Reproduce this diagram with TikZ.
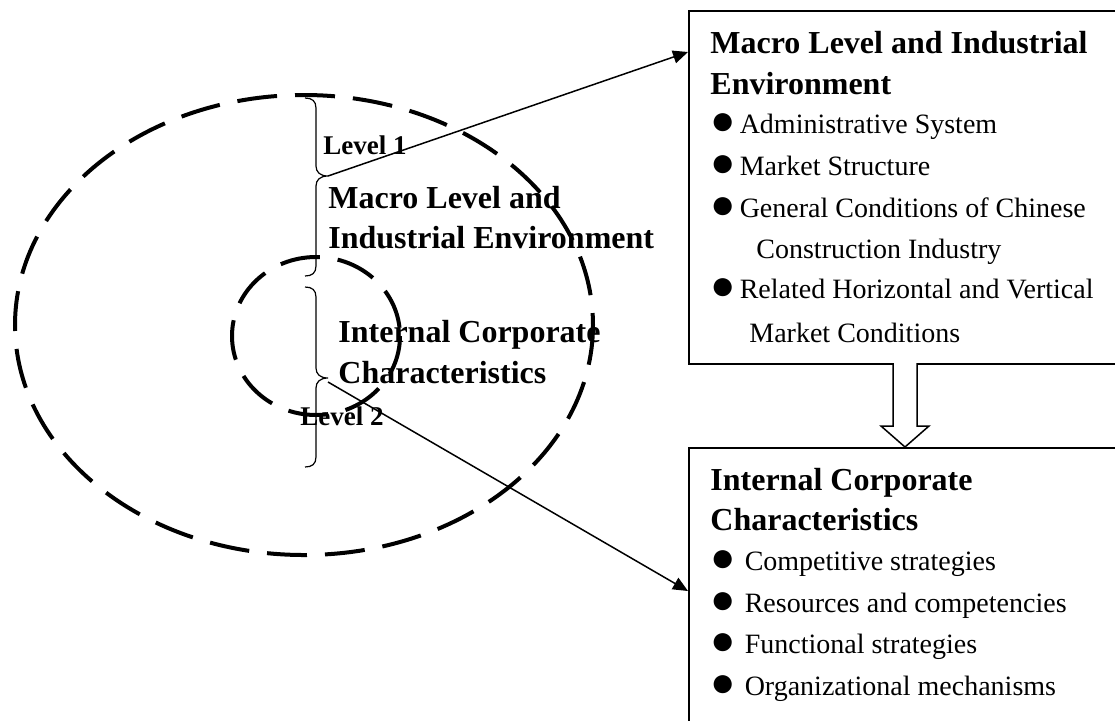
\documentclass[tikz,border=0pt]{standalone}
\usepackage{fontspec}
\setmainfont{Liberation Serif}
\usetikzlibrary{arrows.meta, positioning}

\newcommand{\blt}{{\fontsize{21pt}{17pt}\selectfont\raisebox{-0.5pt}{●}}}

\tikzset{
  ring/.style={line width=2pt, dash pattern=on 20pt off 9pt},
  brace/.style={line width=0.6pt},
  link/.style={line width=0.75pt, -{Triangle[length=7.5pt,width=6.5pt]}},
  panel/.style={draw, line width=1pt, anchor=north west, minimum width=230pt, inner sep=0pt},
  head/.style={font=\fontsize{16pt}{20pt}\selectfont\bfseries, inner sep=0pt, anchor=base west},
  tag/.style={font=\fontsize{13.5pt}{16pt}\selectfont\bfseries, inner sep=0pt, anchor=base west},
  item/.style={font=\fontsize{14pt}{17pt}\selectfont, inner sep=0pt, anchor=base west},
}

\begin{document}
\begin{tikzpicture}[x=0.5pt, y=-0.5pt]
    \clip (0,0) rectangle (1115,720);

    % Rings
    \draw[ring] (304,325) ellipse [x radius=289, y radius=230];
    \draw[ring] (316,336) ellipse [x radius=84, y radius=79];

    % Braces
    \coordinate (lvlAtip) at (328,176);
    \coordinate (lvlBtip) at (328,378);
    \draw[brace] (305,98) .. controls (312,98) and (316,101) .. (316,108) -- (316,166)
        .. controls (316,172) and (320,176) .. (lvlAtip)
        .. controls (320,176) and (316,180) .. (316,186) -- (316,266)
        .. controls (316,273) and (312,276) .. (305,276);
    \draw[brace] (305,287) .. controls (312,287) and (316,290) .. (316,297) -- (316,368)
        .. controls (316,374) and (320,378) .. (lvlBtip)
        .. controls (320,378) and (316,382) .. (316,388) -- (316,457)
        .. controls (316,464) and (312,467) .. (305,467);

    % Labels in the rings
    \node[tag] (lvlA) at (323,154) {Level 1};
    \node[head] (macroA) at (328,208) {Macro Level and};
    \node[below=20pt of macroA.base west, head] (macroB) {Industrial Environment};
    \node[head] (intA) at (338,342) {Internal Corporate};
    \node[below=20.5pt of intA.base west, head] (intB) {Characteristics};
    \node[tag] (lvlB) at (300,425) {Level 2};

    % Boxes
    \node[panel, minimum height=176.5pt] (macrobox) at (688,10) {};
    \node[panel, minimum height=146.5pt] (intbox) at (688,447) {};

    \node[head] (mhA) at (710,53) {Macro Level and Industrial};
    \node[below=20.5pt of mhA.base west, head] (mhB) {Environment};
    \node[below=19.5pt of mhB.base west, item] (mi1) {\blt\hspace{2pt}Administrative System};
    \node[below=21pt of mi1.base west, item] (mi2) {\blt\hspace{2pt}Market Structure};
    \node[below=21pt of mi2.base west, item] (mi3) {\blt\hspace{2pt}General Conditions of Chinese};
    \node[below=20.5pt of mi3.base west, item, xshift=23pt] (mi3b) {Construction Industry};
    \node[below=20pt of mi3b.base west, item, xshift=-23pt] (mi4) {\blt\hspace{2pt}Related Horizontal and Vertical};
    \node[below=22pt of mi4.base west, item, xshift=19.5pt] (mi4b) {Market Conditions};

    \node[head] (ihA) at (710,490) {Internal Corporate};
    \node[below=20pt of ihA.base west, head] (ihB) {Characteristics};
    \node[below=20pt of ihB.base west, item] (ii1) {\blt\hspace{4.5pt}Competitive strategies};
    \node[below=21pt of ii1.base west, item] (ii2) {\blt\hspace{4.5pt}Resources and competencies};
    \node[below=20.5pt of ii2.base west, item] (ii3) {\blt\hspace{4.5pt}Functional strategies};
    \node[below=21pt of ii3.base west, item] (ii4) {\blt\hspace{4.5pt}Organizational mechanisms};

    % Links
    \coordinate (macroend) at (688,52);
    \coordinate (intend) at (688,591);
    \draw[link] (lvlAtip) -- (macroend);
    \draw[link] (lvlBtip) ++(0,4) -- (intend);

    % Hollow arrow between the boxes
    \coordinate (dnA) at (905,363);
    \coordinate (dnB) at (905,447);
    \draw[line width=0.75pt, fill=white] (dnA) ++(-12,0) -- ++(0,63) -- ++(-12,0) -- (dnB)
        -- ++(24,-21) -- ++(-12,0) -- ++(0,-63);
\end{tikzpicture}
\end{document}
